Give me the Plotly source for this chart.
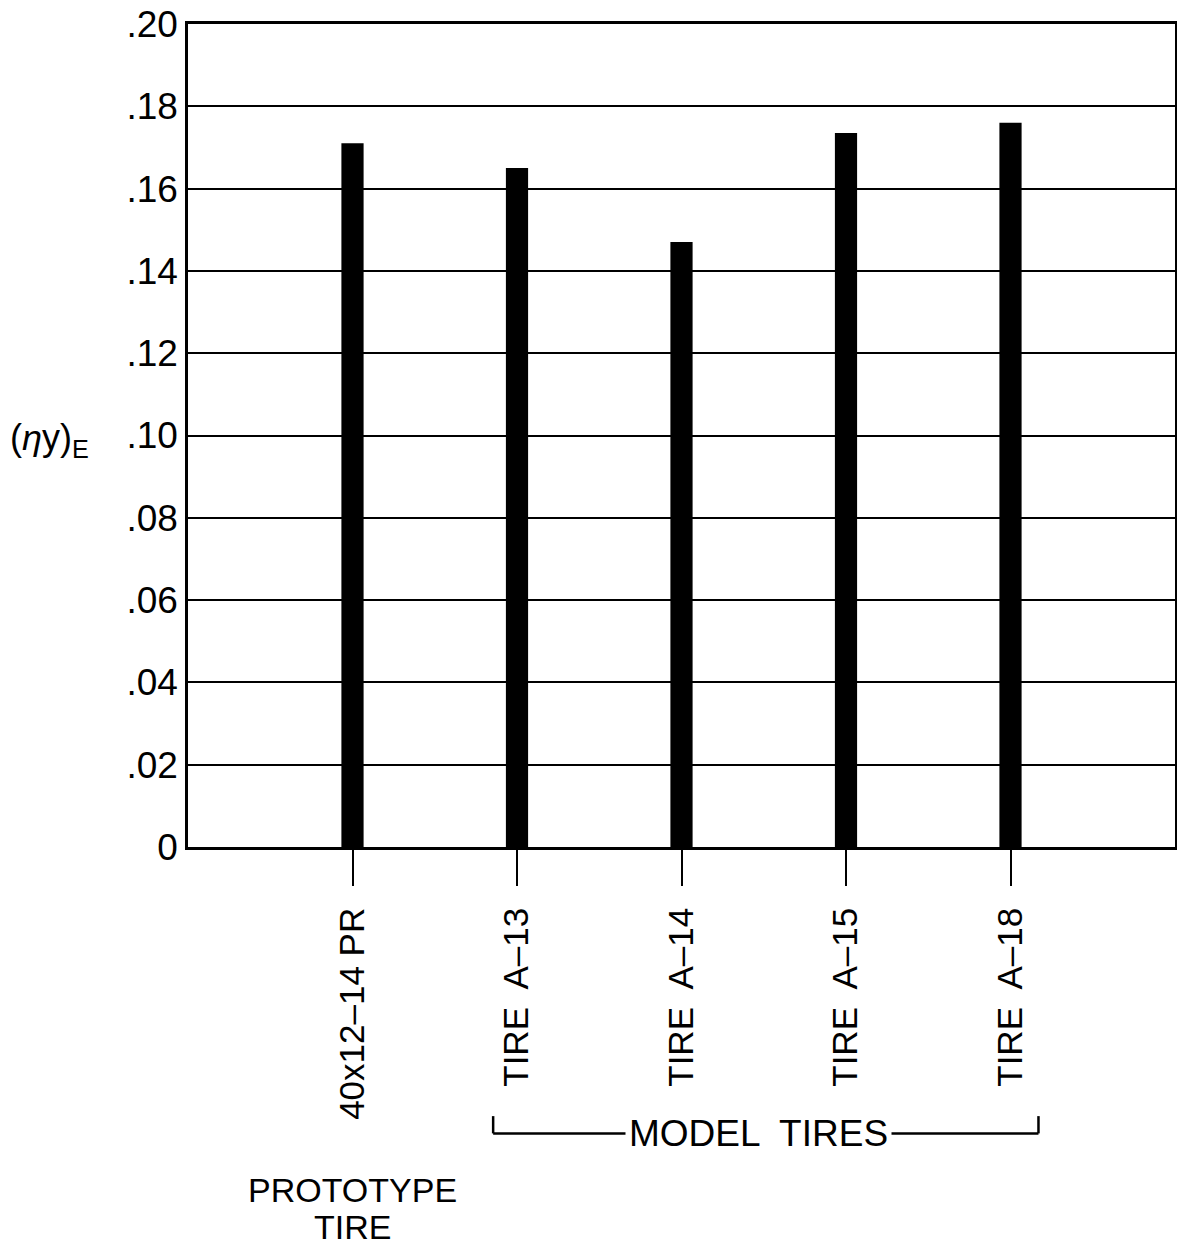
import plotly.graph_objects as go

categories = ["40x12–14 PR", "TIRE  A–13", "TIRE  A–14", "TIRE  A–15", "TIRE  A–18"]
positions = [0, 1, 2, 3, 4]
values = [0.171, 0.165, 0.147, 0.1735, 0.176]
y_tick_vals = [0, 0.02, 0.04, 0.06, 0.08, 0.10, 0.12, 0.14, 0.16, 0.18, 0.20]
y_tick_text = ["0", ".02", ".04", ".06", ".08", ".10", ".12", ".14", ".16", ".18", ".20"]

FONT = "Liberation Sans, Arial, sans-serif"

fig = go.Figure()
fig.add_trace(go.Bar(
    x=positions, y=values, width=0.135,
    marker=dict(color="black", line=dict(width=0)),
    showlegend=False, hoverinfo="skip",
))

fig.update_layout(
    width=1177, height=1248, autosize=False,
    margin=dict(l=188, r=2, t=24, b=401, autoexpand=False),
    paper_bgcolor="white", plot_bgcolor="white",
    font=dict(family=FONT, color="black"),
    xaxis=dict(
        range=[-1, 5], tickmode="array", tickvals=positions, ticktext=categories,
        tickangle=-90, ticks="outside", ticklen=36, tickwidth=1.5, tickcolor="black",
        ticklabelstandoff=8, automargin=False,
        tickfont=dict(size=35, family=FONT, color="black"),
        showline=True, linecolor="black", linewidth=2.5, mirror=True,
        showgrid=False, zeroline=False,
    ),
    yaxis=dict(
        range=[0, 0.2], tickmode="array", tickvals=y_tick_vals, ticktext=y_tick_text,
        tickfont=dict(size=37, family=FONT, color="black"),
        ticks="", ticklabelstandoff=0, automargin=False,
        showline=True, linecolor="black", linewidth=2.5, mirror=True,
        showgrid=True, gridcolor="black", gridwidth=1.5, zeroline=False,
    ),
)

# y-axis title
fig.add_annotation(
    xref="paper", yref="paper", x=-0.182, y=0.495, xanchor="left", yanchor="middle",
    text="(<i>η</i>y)<sub>E</sub>", showarrow=False,
    font=dict(size=36, family=FONT, color="black"),
)

# Model tires bracket
bracket_left = 0.855
bracket_right = 4.17
y_line = -0.348
y_top = -0.327
fig.add_shape(type="line", xref="x", yref="paper", x0=bracket_left, x1=bracket_right,
              y0=y_line, y1=y_line, line=dict(color="black", width=2.5))
fig.add_shape(type="line", xref="x", yref="paper", x0=bracket_left, x1=bracket_left,
              y0=y_line, y1=y_top, line=dict(color="black", width=2.5))
fig.add_shape(type="line", xref="x", yref="paper", x0=bracket_right, x1=bracket_right,
              y0=y_line, y1=y_top, line=dict(color="black", width=2.5))
fig.add_annotation(
    xref="x", yref="paper", x=2.47, y=y_line, text="MODEL  TIRES", showarrow=False,
    bgcolor="white", borderpad=3, xanchor="center", yanchor="middle",
    font=dict(size=37, family=FONT, color="black"),
)

fig.add_annotation(
    xref="x", yref="paper", x=0, y=-0.417, text="PROTOTYPE", showarrow=False,
    xanchor="center", yanchor="middle",
    font=dict(size=34, family=FONT, color="black"),
)
fig.add_annotation(
    xref="x", yref="paper", x=0, y=-0.462, text="TIRE", showarrow=False,
    xanchor="center", yanchor="middle",
    font=dict(size=34, family=FONT, color="black"),
)

post = ("document.body.style.margin='0';"
        "document.body.style.padding='0';"
        "document.body.style.overflow='hidden';"
        "document.documentElement.style.overflow='hidden';")

fig.write_html("out.html", config={"responsive": False, "displayModeBar": False},
               post_script=post)
